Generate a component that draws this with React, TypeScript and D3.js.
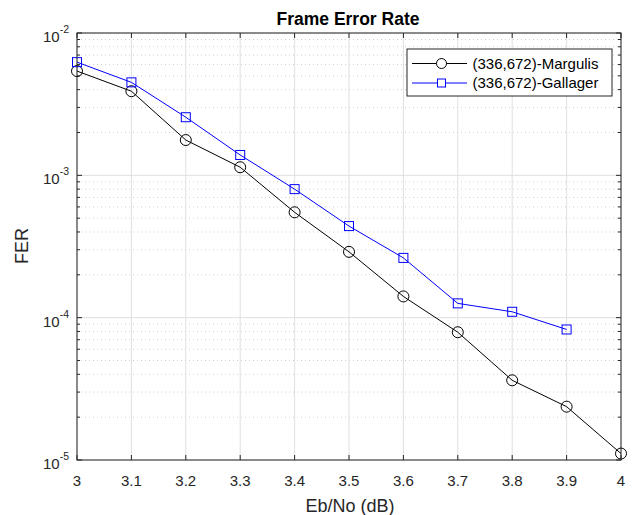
import * as d3 from "d3"

const ebno = [3, 3.1, 3.2, 3.3, 3.4, 3.5, 3.6, 3.7, 3.8, 3.9, 4]
const margulis = [5.4e-3, 3.9e-3, 1.77e-3, 1.14e-3, 5.5e-4, 2.9e-4, 1.41e-4, 7.9e-5, 3.63e-5, 2.37e-5, 1.11e-5]
const gallagerX = [3, 3.1, 3.2, 3.3, 3.4, 3.5, 3.6, 3.7, 3.8, 3.9]
const gallager = [6.24e-3, 4.5e-3, 2.56e-3, 1.39e-3, 8.0e-4, 4.4e-4, 2.63e-4, 1.26e-4, 1.1e-4, 8.26e-5]
const xTicks = [3, 3.1, 3.2, 3.3, 3.4, 3.5, 3.6, 3.7, 3.8, 3.9, 4]
const yDecades = [-2, -3, -4, -5]
const seriesNames = ["(336,672)-Margulis", "(336,672)-Gallager"]

const W = 633
const H = 515
const left = 77
const right = 621
const top = 33
const bottom = 460
const font = "Liberation Sans, Arial, Helvetica, sans-serif"

export default function App() {
  const x = d3.scaleLinear().domain([3, 4]).range([left, right])
  const y = d3.scaleLog().domain([1e-5, 1e-2]).range([bottom, top])

  // minor decade values 2..9 x 10^e
  const minor: number[] = []
  for (let e = -5; e < -2; e++) {
    for (let m = 2; m <= 9; m++) minor.push(m * Math.pow(10, e))
  }

  const line = d3
    .line<[number, number]>()
    .x((d) => x(d[0]))
    .y((d) => y(d[1]))

  const mPts: [number, number][] = ebno.map((v, i) => [v, margulis[i]])
  const gPts: [number, number][] = gallagerX.map((v, i) => [v, gallager[i]])

  const gridCol = "#dfdfdf"
  const axisCol = "#262626"

  return (
    <svg
      width={W}
      height={H}
      style={{ position: "absolute", left: 0, top: 0, background: "#fff" }}
      fontFamily={font}
    >
      <rect x={left} y={top} width={right - left} height={bottom - top} fill="#fff" />
      {/* minor grid */}
      {minor.map((v) => (
        <line
          key={"mg" + v}
          x1={left}
          x2={right}
          y1={y(v)}
          y2={y(v)}
          stroke="#d0d0d0"
          strokeWidth={1}
          strokeDasharray="1,3"
        />
      ))}
      {/* major grid */}
      {xTicks.map((t) => (
        <line key={"xg" + t} x1={x(t)} x2={x(t)} y1={top} y2={bottom} stroke={gridCol} strokeWidth={1} />
      ))}
      {yDecades.map((e) => (
        <line
          key={"yg" + e}
          x1={left}
          x2={right}
          y1={y(Math.pow(10, e))}
          y2={y(Math.pow(10, e))}
          stroke={gridCol}
          strokeWidth={1}
        />
      ))}

      {/* series */}
      <path d={line(mPts) || ""} fill="none" stroke="#000" strokeWidth={1} />
      <path d={line(gPts) || ""} fill="none" stroke="#0000ff" strokeWidth={1} />
      {mPts.map((d, i) => (
        <circle key={"mc" + i} cx={x(d[0])} cy={y(d[1])} r={5.5} fill="none" stroke="#000" strokeWidth={1} />
      ))}
      {gPts.map((d, i) => (
        <rect
          key={"gs" + i}
          x={x(d[0]) - 4.5}
          y={y(d[1]) - 4.5}
          width={9}
          height={9}
          fill="none"
          stroke="#0000ff"
          strokeWidth={1}
        />
      ))}

      {/* axes box */}
      <rect x={left} y={top} width={right - left} height={bottom - top} fill="none" stroke={axisCol} strokeWidth={1} />
      {xTicks.map((t) => (
        <g key={"xt" + t}>
          <line x1={x(t)} x2={x(t)} y1={bottom} y2={bottom - 5} stroke={axisCol} />
          <line x1={x(t)} x2={x(t)} y1={top} y2={top + 5} stroke={axisCol} />
          <text x={x(t)} y={486} fontSize={15} textAnchor="middle" fill="#262626">
            {t}
          </text>
        </g>
      ))}
      {yDecades.map((e) => (
        <g key={"yt" + e}>
          <line x1={left} x2={left + 5} y1={y(Math.pow(10, e))} y2={y(Math.pow(10, e))} stroke={axisCol} />
          <line x1={right} x2={right - 5} y1={y(Math.pow(10, e))} y2={y(Math.pow(10, e))} stroke={axisCol} />
          <text x={69} y={y(Math.pow(10, e)) + 9} fontSize={15} textAnchor="end" fill="#262626">
            10
            <tspan fontSize={10.5} dy={-9}>
              {e}
            </tspan>
          </text>
        </g>
      ))}
      {minor.map((v) => (
        <g key={"mt" + v}>
          <line x1={left} x2={left + 3} y1={y(v)} y2={y(v)} stroke={axisCol} />
          <line x1={right} x2={right - 3} y1={y(v)} y2={y(v)} stroke={axisCol} />
        </g>
      ))}

      {/* labels */}
      <text x={348} y={25} fontSize={17.5} fontWeight="bold" textAnchor="middle" fill="#000">
        Frame Error Rate
      </text>
      <text x={350} y={512} fontSize={18} textAnchor="middle" fill="#262626">
        Eb/No (dB)
      </text>
      <text transform={`translate(28,246) rotate(-90)`} fontSize={18} textAnchor="middle" fill="#262626">
        FER
      </text>

      {/* legend */}
      <g>
        <rect x={407} y={49} width={205} height={47} fill="#fff" stroke={axisCol} strokeWidth={1} />
        <line x1={412} x2={467} y1={63.5} y2={63.5} stroke="#000" />
        <circle cx={441.5} cy={63.5} r={5} fill="#fff" stroke="#000" />
        <text x={472.5} y={68.5} fontSize={15} fill="#000">
          {seriesNames[0]}
        </text>
        <line x1={412} x2={467} y1={83} y2={83} stroke="#0000ff" />
        <rect x={437.5} y={79} width={8} height={8} fill="#fff" stroke="#0000ff" />
        <text x={472.5} y={88} fontSize={15} fill="#000">
          {seriesNames[1]}
        </text>
      </g>
    </svg>
  )
}
